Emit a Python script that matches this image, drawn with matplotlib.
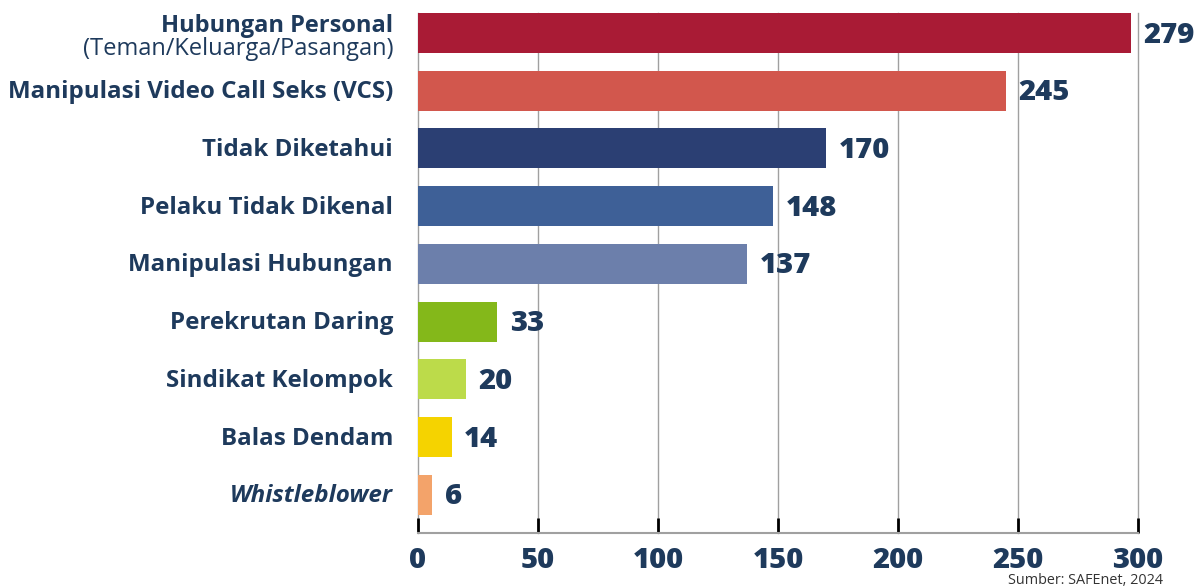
import matplotlib
matplotlib.use("Agg")
import matplotlib.pyplot as plt

categories = ["Hubungan Personal", "Manipulasi Video Call Seks (VCS)", "Tidak Diketahui",
              "Pelaku Tidak Dikenal", "Manipulasi Hubungan", "Perekrutan Daring",
              "Sindikat Kelompok", "Balas Dendam", "Whistleblower"]
subtitle_first = "(Teman/Keluarga/Pasangan)"
# bar lengths as drawn in the picture (first bar is drawn longer than its label)
bar_lengths = [297, 245, 170, 148, 137, 33, 20, 14, 6]
value_labels = ["279", "245", "170", "148", "137", "33", "20", "14", "6"]
colors = ["#a91b35", "#d2574d", "#2b3f73", "#3e6097", "#6c7fab",
          "#84b81a", "#bcdb4a", "#f5d300", "#f3a36a"]
xticks = [0, 50, 100, 150, 200, 250, 300]
source = "Sumber: SAFEnet, 2024"

navy = "#1e3a5c"
FONT = "Open Sans"

fig = plt.figure(figsize=(12, 5.88), dpi=100)
ax = fig.add_axes([418/1200, 1-533/588, 720/1200, 520/588])

y = list(range(len(categories)))
h = 0.69
ax.barh(y, bar_lengths, height=h, color=colors, zorder=3)
ax.set_xlim(0, 300)
ax.set_ylim(8.66, -0.345)

ax.set_xticks(xticks)
ax.grid(axis="x", color="#a0a0a0", linewidth=1.0, zorder=0)
for gl in ax.get_xgridlines():
    gl.set_clip_on(False)
ax.set_axisbelow(True)
for s in ["top", "right", "left"]:
    ax.spines[s].set_visible(False)
ax.spines["bottom"].set_color("#a0a0a0")
ax.spines["bottom"].set_linewidth(1.5)
ax.tick_params(axis="x", direction="in", length=11, width=2, color="black",
               labelsize=21, labelcolor=navy, pad=9)
for lab in ax.get_xticklabels():
    lab.set_fontfamily(FONT)
    lab.set_fontweight("heavy")
ax.set_yticks([])

for i, (cat, ln, vl) in enumerate(zip(categories, bar_lengths, value_labels)):
    if i == 0:
        ax.annotate(cat, xy=(0, i), xytext=(-18, 5), textcoords="offset points",
                    ha="right", va="center", fontsize=17, fontweight="bold",
                    color=navy, family=FONT)
        ax.annotate(subtitle_first, xy=(0, i), xytext=(-18, -11.5), textcoords="offset points",
                    ha="right", va="center", fontsize=17, fontweight="normal",
                    color=navy, family=FONT)
    else:
        style = "italic" if cat == "Whistleblower" else "normal"
        ax.annotate(cat, xy=(0, i), xytext=(-18, -1), textcoords="offset points",
                    ha="right", va="center", fontsize=17.4, fontweight="bold",
                    style=style, color=navy, family=FONT)
    ax.annotate(vl, xy=(ln, i), xytext=(9, -1.5), textcoords="offset points",
                ha="left", va="center", fontsize=21, fontweight="heavy",
                color=navy, family=FONT)

fig.text(1163/1200, 1-580/588, source, ha="right", va="center", fontsize=10.4,
         color="#333333", family=FONT)

fig.savefig("out.png", dpi=100)
